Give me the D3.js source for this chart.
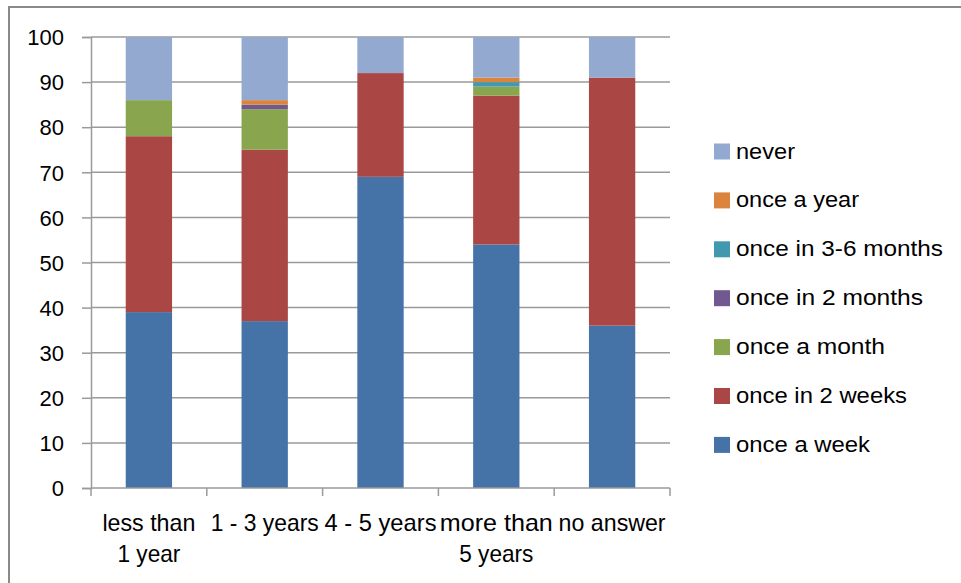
<!DOCTYPE html>
<html>
<head>
<meta charset="utf-8">
<script src="https://cdn.jsdelivr.net/npm/d3@7"></script>
<style>
  html, body { margin: 0; padding: 0; background: #fff; }
  svg { display: block; font-family: "Liberation Sans", Arial, sans-serif; }
</style>
</head>
<body>
<svg id="chart" width="961" height="583"></svg>
<script>
// ---- data ----
const categories = [["less than", "1 year"], ["1 - 3 years"], ["4 - 5 years"], ["more than", "5 years"], ["no answer"]];
const categoryKeys = ["less than 1 year", "1 - 3 years", "4 - 5 years", "more than 5 years", "no answer"];
const seriesNames = ["once a week", "once in 2 weeks", "once a month", "once in 2 months", "once in 3-6 months", "once a year", "never"];
const onceAWeek      = [39, 37, 69, 54, 36];
const onceIn2Weeks   = [39, 38, 23, 33, 55];
const onceAMonth     = [8, 9, 0, 2, 0];
const onceIn2Months  = [0, 1, 0, 0, 0];
const onceIn3to6     = [0, 0, 0, 1, 0];
const onceAYear      = [0, 1, 0, 1, 0];
const never          = [14, 14, 8, 9, 9];
const yTicks = [0, 10, 20, 30, 40, 50, 60, 70, 80, 90, 100];
const colors = ["#4572A7", "#AA4643", "#89A54E", "#71588F", "#4198AF", "#DB843D", "#93A9CF"];

const seriesValues = [onceAWeek, onceIn2Weeks, onceAMonth, onceIn2Months, onceIn3to6, onceAYear, never];
const rows = categoryKeys.map((c, i) => {
  const r = { cat: c };
  seriesNames.forEach((s, j) => r[s] = seriesValues[j][i]);
  return r;
});

const svg = d3.select("#chart");

// outer frame
svg.append("path")
  .attr("d", "M9,583 V7 H961")
  .attr("fill", "none").attr("stroke", "#8a8a8a").attr("stroke-width", 2);

const x = d3.scaleBand().domain(categoryKeys).range([91, 670]).paddingInner(0.6).paddingOuter(0.3);
const y = d3.scaleLinear().domain([0, 100]).range([488, 37]);

// gridlines
svg.append("g").selectAll("line").data(yTicks.filter(t => t > 0)).join("line")
  .attr("x1", 91).attr("x2", 670)
  .attr("y1", d => y(d)).attr("y2", d => y(d))
  .attr("stroke", "#9a9a9a").attr("stroke-width", 1.5);

// bars
const stack = d3.stack().keys(seriesNames)(rows);
svg.append("g").selectAll("g").data(stack).join("g")
  .attr("fill", (d, i) => colors[i])
  .selectAll("rect").data(d => d).join("rect")
  .attr("x", d => x(d.data.cat))
  .attr("width", x.bandwidth())
  .attr("y", d => y(d[1]))
  .attr("height", d => Math.max(0, y(d[0]) - y(d[1])));

// y axis
const yAxis = svg.append("g").attr("transform", "translate(91,0)")
  .call(d3.axisLeft(y).tickValues(yTicks).tickSize(9).tickPadding(18));
yAxis.select(".domain").attr("stroke", "#9a9a9a").attr("stroke-width", 1.5);
yAxis.selectAll(".tick line").attr("stroke", "#9a9a9a").attr("stroke-width", 1.5);
yAxis.selectAll(".tick text").attr("font-size", 22).attr("fill", "#000")
  .attr("font-family", "Liberation Sans, Arial, sans-serif").attr("dy", "0.35em").attr("x", -27);

// x axis
const xAxisG = svg.append("g").attr("transform", "translate(0,488)");
xAxisG.append("line").attr("x1", 91).attr("x2", 670).attr("stroke", "#9a9a9a").attr("stroke-width", 1.5);
const step = x.step();
const tickXs = d3.range(categoryKeys.length + 1).map(i => x(categoryKeys[0]) - x.paddingOuter() * step - (x.step() - x.bandwidth()) / 2 + (x.step() - x.bandwidth()) / 2 + i * step);
xAxisG.selectAll("line.t").data(tickXs).join("line").attr("class", "t")
  .attr("x1", d => d).attr("x2", d => d).attr("y1", 0).attr("y2", 8)
  .attr("stroke", "#9a9a9a").attr("stroke-width", 1.5);

const labelWidths = [[93, 63], [108], [112], [113, 74], [107]];
categoryKeys.forEach((c, i) => {
  const cx = x(c) + x.bandwidth() / 2;
  categories[i].forEach((line, k) => {
    svg.append("text")
      .attr("x", cx).attr("y", 531 + k * 31)
      .attr("text-anchor", "middle")
      .attr("font-size", 24)
      .attr("textLength", labelWidths[i][k])
      .attr("lengthAdjust", "spacingAndGlyphs")
      .text(line);
  });
});

// legend
const legendOrder = seriesNames.map((s, i) => ({ s, c: colors[i] })).reverse();
const legendWidths = { "never": 59, "once a year": 123, "once in 3-6 months": 207, "once in 2 months": 187, "once a month": 149, "once in 2 weeks": 171, "once a week": 134 };
const lg = svg.append("g");
legendOrder.forEach((d, i) => {
  const cy = 151.5 + i * 48.9;
  lg.append("rect").attr("x", 714).attr("y", cy - 8).attr("width", 16).attr("height", 16).attr("fill", d.c);
  lg.append("text").attr("x", 736).attr("y", cy + 7)
    .attr("font-size", 22)
    .attr("textLength", legendWidths[d.s])
    .attr("lengthAdjust", "spacingAndGlyphs")
    .text(d.s);
});
</script>
</body>
</html>
